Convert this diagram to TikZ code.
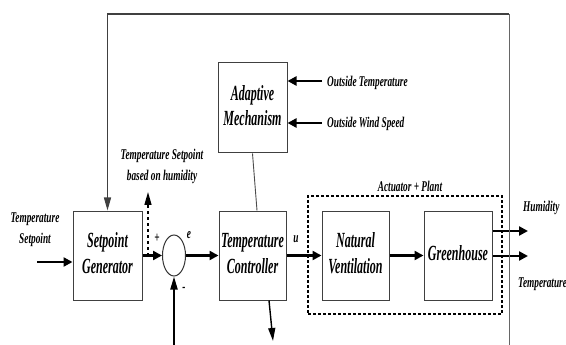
\documentclass[tikz,border=0pt]{standalone}
\usepackage{fontspec}
\setmainfont{Liberation Serif}
\usepackage{graphicx}
\usetikzlibrary{positioning, arrows.meta, shapes.geometric}

% text in the figure is stretched upwards
\newcommand{\tallbox}[1]{\scalebox{1}[1.8]{\begin{tabular}{@{}c@{}}#1\end{tabular}}}
\newcommand{\talllbl}[1]{\scalebox{1}[1.6]{\begin{tabular}{@{}c@{}}#1\end{tabular}}}

\begin{document}
\begin{tikzpicture}[x=1pt, y=-1pt,
      blk/.style={draw=black!75, line width=1pt, inner sep=0pt, minimum width=68pt, minimum height=89pt,
                  font=\fontsize{12}{14}\selectfont\bfseries\itshape},
      lbl/.style={inner sep=0pt, font=\fontsize{9.3}{13}\selectfont\bfseries\itshape},
      sig/.style={line width=2.4pt},
      harr/.style={sig, -{Triangle[length=9pt, width=9pt]}},
      varr/.style={-{Triangle[length=13pt, width=7pt]}},
      fb/.style={draw=black!75, line width=1.4pt}]

    \useasboundingbox (0,0) rectangle (566,345);

    \node[blk, minimum width=69pt] (sg) at (107.5,255.5) {\tallbox{Setpoint\\Generator}};
    \node[draw=black!80, line width=1pt, ellipse, inner sep=0pt, minimum width=23pt, minimum height=41pt] (sum) at (174,255.5) {};
    \node[blk, minimum width=67pt] (tc) at (252.5,255.5) {\tallbox{Temperature\\Controller}};
    \node[blk, minimum width=69pt, minimum height=90pt] (am) at (252.5,108) {\tallbox{Adaptive\\Mechanism}};
    \node[blk, minimum width=67pt] (nv) at (355.5,255.5) {\tallbox{Natural\\Ventilation}};
    \node[blk] (gh) at (458,255.5) {\tallbox{Greenhouse}};
    \node[draw, line width=1.8pt, dash pattern=on 3pt off 2pt, minimum width=194pt, minimum height=118pt] (plant) at (405,255) {};
    \node[lbl] (plantlbl) at (410,187) {\talllbl{Actuator + Plant}};

    % inputs
    \coordinate (tsp) at (37,262);
    \node[lbl] (tsplbl) at (35,229) {\talllbl{Temperature\\Setpoint}};
    \draw[harr] (tsp) -- (tsp -| sg.west);

    \coordinate (otemp) at (322,81);
    \coordinate (owind) at (322,123);
    \draw[harr] (otemp) -- (otemp -| am.east);
    \draw[harr] (owind) -- (owind -| am.east);
    \node[lbl, anchor=west] (otemplbl) at (327,82) {\talllbl{Outside Temperature}};
    \node[lbl, anchor=west] (owindlbl) at (327,123) {\talllbl{Outside Wind Speed}};

    % forward path
    \draw[harr] (sg.east) -- (sum.west);
    \draw[harr] (sum.east) -- (tc.west);
    \draw[harr] (tc.east) -- (nv.west);
    \draw[harr] (nv.east) -- (gh.west);
    \node[lbl] (plus) at (157,238) {\talllbl{+}};
    \node[lbl] (elbl) at (189,234) {\talllbl{e}};
    \node[lbl] (minus) at (184,287) {\talllbl{-}};
    \node[lbl] (ulbl) at (296,238) {\talllbl{u}};

    \coordinate (tap) at (148,255.5);
    \coordinate (tsh) at (148,192);
    \draw[varr, line width=1.4pt, dashed] (tap) -- (tsh);
    \node[lbl] (tshlbl) at (162,166) {\talllbl{Temperature Setpoint\\based on humidity}};

    \draw[draw=black!70, line width=0.9pt] (am.south) -- ([xshift=4.5pt]tc.north);
    \coordinate (tcout) at (273,341);
    \draw[varr, line width=1.4pt] ([xshift=16.5pt]tc.south) -- (tcout);

    % outputs
    \coordinate (hum) at (528,231);
    \coordinate (temp) at (528,256);
    \draw[harr] (gh.east |- hum) -- (hum);
    \draw[harr] (gh.east |- temp) -- (temp);
    \node[lbl, anchor=west] (humlbl) at (523,207) {\talllbl{Humidity}};
    \node[lbl, anchor=west] (templbl) at (518,283) {\talllbl{Temperature}};

    % feedback
    \coordinate (fbot) at (509,345);
    \coordinate (ftop) at (509,14);
    \draw[draw=black!60, line width=1pt] (fbot) -- (ftop);
    \draw[fb, varr] (ftop) -| (sg.north);
    \coordinate (sbot) at (174,345);
    \draw[varr, line width=2pt] (sbot) -- (sum.south);
  \end{tikzpicture}
\end{document}
